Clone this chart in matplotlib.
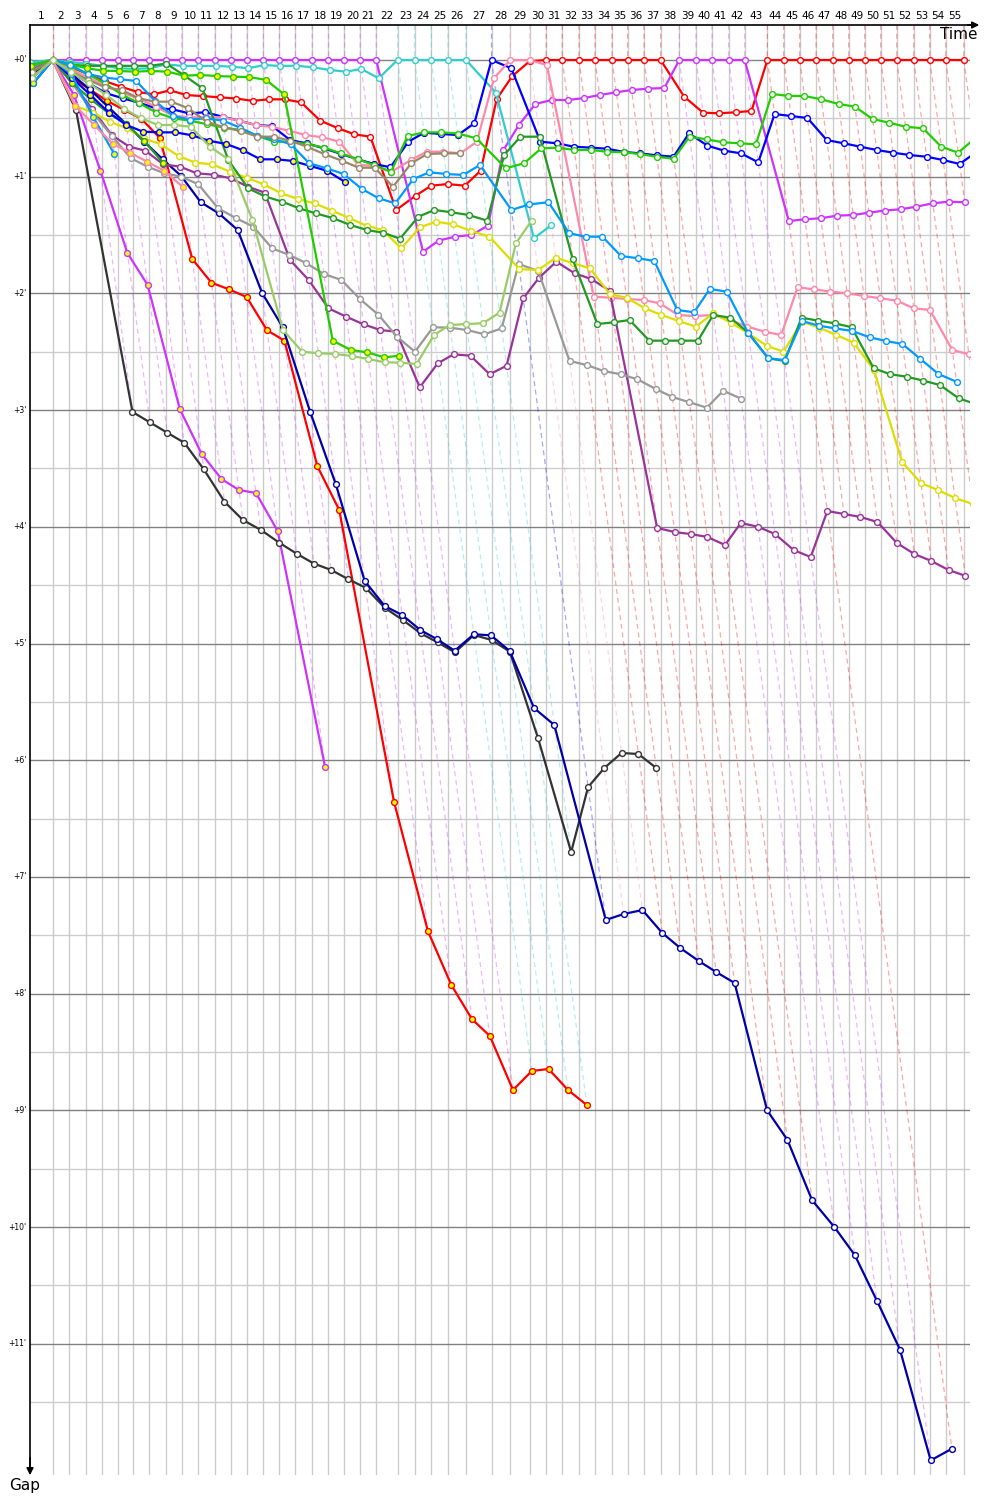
import numpy as np
import matplotlib.pyplot as plt

# leader lap times (s), laps 1..55
lap_times = [88, 64.3, 63.5, 62, 62, 60.4, 62, 63.5, 62, 64.3, 64.7, 62, 62, 63, 62, 62, 64.7, 63, 62, 60.8,
             62, 82.5, 65.8, 64.7, 64.7, 69.7, 99, 72.4, 74.7, 64.7, 62, 64.7, 62, 65.8, 60.4, 63.5, 64.3, 72.4,
             64.7, 62, 64.3, 62, 88, 63, 62, 63.5, 64.3, 62, 62, 62, 62, 65.8, 62, 62, 69.7]
lap_labels = [str(i) for i in range(1, 56)]
gap_ticks = [f"+{i}'" for i in range(12)]

# gaps to leader in minutes, from lap 0
red_w = [.05, 0, .06, .12, .18, .23, .274, .294, .26, .30, .31, .32, .33, .35, .337, .337, .363, .52, .583, .637,
         .657, 1.285, 1.163, 1.077, 1.063, 1.077, .949, .334, .137, .01, 0, 0, 0, 0, 0, 0, 0, 0, .314, .451, .457,
         .448, .437, 0, 0, 0, 0, 0, 0, 0, 0, 0, 0, 0, 0, 0]
red_y = [.1, 0, .152, .251, .351, .428, .503, .666, 1.705, 1.908, 1.965, 2.031, 2.316, 2.405, 3.482, 3.856,
         6.358, 7.464, 7.926, 8.218, 8.363, 8.826, 8.663, 8.646, 8.826, 8.955]
violet_w = [.03] + [0] * 21 + [1.643, 1.548, 1.514, 1.5, 1.42, .771, .557, .377, .343, .343, .326, .30, .277,
                               .257, .246, .24, 0, 0, 0, 0, 0, 1.38, 1.365, 1.356, 1.334, 1.328, 1.308, 1.29,
                               1.279, 1.257, 1.228, 1.214, 1.219]
violet_y = [.08, 0, .3, .95, 1.654, 1.928, 2.99, 3.376, 3.59, 3.685, 3.71, 4.036, 6.058]
black = [.12, 0, .43, 3.016, 3.105, 3.194, 3.279, 3.507, 3.785, 3.942, 4.027, 4.136, 4.231, 4.316, 4.37, 4.45,
         4.522, 4.696, 4.799, 4.913, 4.99, 5.076, 4.927, 4.97, 5.07, 5.81, 6.787, 6.23, 6.067, 5.938, 5.947, 6.067]
navy = [.1, 0, .12, .25, .4, .55, .7, .85, .994, 1.219, 1.314, 1.457, 1.997, 2.288, 3.016, 3.636, 4.464, 4.679,
        4.756, 4.884, 4.964, 5.062, 4.921, 4.93, 5.064, 5.553, 5.698, 7.369, 7.318, 7.284, 7.48, 7.609, 7.72,
        7.815, 7.909, 9.0, 9.254, 9.77, 10.0, 10.24, 10.63, 11.05, 12.0, 11.9]
dpurple = [.1, 0, .2, .42, .643, .743, .777, .894, .914, .971, .983, 1.014, 1.086, 1.137, 1.714, 1.885, 2.128,
           2.2, 2.265, 2.314, 2.328, 2.805, 2.599, 2.522, 2.534, 2.693, 2.62, 2.042, 1.865, 1.728, 1.828, 1.877,
           1.977, 4.01, 4.045, 4.062, 4.087, 4.156, 3.967, 4.0, 4.062, 4.2, 4.259, 3.865, 3.89, 3.916, 3.959,
           4.139, 4.233, 4.293, 4.37, 4.42]
gray = [.1, 0, .2, .45, .65, .842, .914, .971, 1.0, 1.065, 1.271, 1.356, 1.428, 1.614, 1.671, 1.742, 1.834,
        1.885, 2.051, 2.182, 2.371, 2.5, 2.29, 2.294, 2.314, 2.35, 2.3, 1.748, 1.808, 2.579, 2.614, 2.665, 2.693,
        2.736, 2.819, 2.888, 2.933, 2.979, 2.834, 2.902]
yellow = [.1, 0, .394, .45, .529, .585, .671, .722, .823, .88, .894, .957, 1.009, 1.065, 1.142, 1.191, 1.228,
          1.291, 1.356, 1.42, 1.457, 1.615, 1.434, 1.386, 1.408, 1.463, 1.514, 1.791, 1.8, 1.694, 1.742, 1.785,
          2.008, 2.037, 2.128, 2.185, 2.237, 2.285, 2.171, 2.251, 2.342, 2.448, 2.5, 2.242, 2.294, 2.356, 2.422,
          2.656, 3.445, 3.625, 3.685, 3.753, 3.805]
dgreen_w = [.05, 0, .04, .05, .05, .05, .05, .05, .03, .13, .24, .86, 1.1, 1.17, 1.214, 1.271, 1.314, 1.356,
            1.414, 1.457, 1.48, 1.531, 1.343, 1.285, 1.305, 1.328, 1.377, .814, .657, .657, 1.708, 2.262, 2.248,
            2.228, 2.405, 2.405, 2.405, 2.405, 2.185, 2.208, 2.337, 2.556, 2.579, 2.208, 2.234, 2.256, 2.29,
            2.642, 2.693, 2.714, 2.748, 2.785, 2.899, 2.948]
dgreen_y = [.1, 0, .2, .337, .457, .548, .694, .88]
blue_w = [.15, 0, .1, .2, .285, .328, .366, .414, .422, .457, .448, .486, .52, .557, .566, .686, .714, .757,
          .805, .851, .891, .919, .70, .623, .634, .643, .542, 0, .071, .70, .714, .743, .751, .76, .788, .80,
          .817, .829, .628, .734, .777, .80, .877, .463, .48, .497, .686, .714, .743, .771, .794, .814, .829,
          .857, .891, .791]
blue_y = [.2, 0, .15, .3, .45, .557, .614, .62, .62, .645, .692, .72, .774, .851, .851, .865, .906, .949, 1.043]
green_w = [.05, 0, .05, .12, .2, .3, .37, .45, .5, .52, .55, .58, .6, .65, .7, .7, .72, .75, .8, .85, .9, .957,
           .651, .62, .62, .63, .671, .928, .885, .757, .751, .771, .771, .786, .791, .806, .829, .846, .657,
           .68, .705, .714, .722, .291, .308, .308, .337, .377, .40, .506, .537, .572, .585, .743, .794, .677]
green_y = [.05, 0, .037, .071, .092, .094, .1, .094, .1, .134, .129, .137, .143, .146, .171, .294, 2.405, 2.485,
           2.505, 2.548, 2.534]
cyan = [.02, 0, .02, .03, .05, .07, .077, .07, .037, .051, .051, .051, .057, .071, .043, .051, .049, .063, .086,
        .10, .077, .157, 0, 0, 0, 0, 0, .28, 1.528, 1.414]
lblue_w = [.15, 0, .04, .12, .15, .165, .18, .35, .48, .51, .50, .52, .58, .65, .68, .72, .885, .928, .977,
           1.103, 1.185, 1.228, 1.02, .962, .977, .985, .90, 1.285, 1.237, 1.219, 1.485, 1.514, 1.514, 1.68,
           1.699, 1.722, 2.142, 2.162, 1.962, 1.985, 2.342, 2.556, 2.571, 2.237, 2.277, 2.30, 2.322, 2.376,
           2.408, 2.434, 2.562, 2.691, 2.757]
lblue_y = [.2, 0, .12, .491, .805]
pink_w = [.1, 0, .08, .15, .22, .28, .33, .40, .477, .491, .491, .49, .52, .557, .574, .606, .643, .662, .70,
          .90, .906, .96, .857, .786, .786, .80, .70, .157, 0, 0, .043, 2.028, 2.037, 2.048, 2.057, 2.085, 2.185,
          2.194, 2.185, 2.23, 2.285, 2.328, 2.357, 1.948, 1.965, 1.985, 1.999, 2.022, 2.042, 2.062, 2.128, 2.142,
          2.485, 2.522]
pink_y = [.15, 0, .394, .56, .72, .794, .871, .949, 1.086]
olive = [.1, 0, .1, .171, .234, .257, .328, .357, .357, .414, .529, .577, .608, .657, .657, .692, .743, .808,
         .863, .923, .923, 1.086, .885, .806, .80, .80]
ygreen = [.15, 0, .1, .2, .3, .42, .5, .557, .557, .572, .743, .851, 1.371, 2.314, 2.5, 2.513, 2.519, 2.536,
          2.562, 2.59, 2.594, 2.605, 2.356, 2.271, 2.262, 2.256, 2.165, 1.571, 1.377]

series = [
    (red_w, '#FF0000', 'white'), (violet_w, '#CC33FF', 'white'), (cyan, '#33CCCC', 'white'),
    (blue_w, '#0000FF', 'white'), (pink_w, '#FF88AA', 'white'),
    (red_y, '#FF0000', 'yellow'), (violet_y, '#CC33FF', 'yellow'), (black, '#333333', 'white'),
    (navy, '#0000AA', 'white'), (dpurple, '#993399', 'white'), (gray, '#999999', 'white'),
    (yellow, '#DDDD00', 'white'), (dgreen_w, '#229922', 'white'), (dgreen_y, '#229922', 'yellow'),
    (blue_y, '#0000FF', 'yellow'), (green_w, '#22CC00', 'white'), (green_y, '#22CC00', 'yellow'),
    (lblue_w, '#0099FF', 'white'), (lblue_y, '#0099FF', 'yellow'), (pink_y, '#FF88AA', 'yellow'),
    (olive, '#998866', 'white'), (ygreen, '#99CC66', 'white'),
]

T = np.concatenate([[0], np.cumsum(lap_times)])

fig = plt.figure(figsize=(10, 15), dpi=100)
ax = fig.add_axes([0.03, 25 / 1500, 0.94, 1450 / 1500])
ymin, ymax = -35 / 116.7, 1415 / 116.7
ax.set_xlim(0, 940 / (15.5 / 60))
ax.set_ylim(ymax, ymin)

# grid
for k in range(1, len(T)):
    ax.axvline(T[k], color='#CCCCCC', lw=1, zorder=0)
for m in range(12):
    ax.axhline(m + 0.5, color='#CCCCCC', lw=1, zorder=0)
    ax.axhline(m, color='#808080', lw=1, zorder=0.5)

# lap lines (dashed), coloured after the leader of that lap
for k in range(1, len(T)):
    running = [(s[k], c) for s, c, f in series if len(s) > k]
    gmax = max(g for g, c in running)
    lead_col = min(running, key=lambda p: p[0])[1]
    ax.plot([T[k], T[k], T[k] + 60 * gmax], [ymin, 0, gmax], color=lead_col, alpha=0.35,
            lw=0.9, dashes=(4, 3), zorder=1)

for gaps, col, fill in series:
    g = np.array(gaps)
    x = T[:len(g)] + 60 * g
    ax.plot(x, g, color=col, lw=1.6, marker='o', ms=4.2, mfc=fill, mec=col, mew=1, zorder=3)

ax.set_xticks([])
ax.set_yticks([])
for sp in ax.spines.values():
    sp.set_visible(False)

# lap numbers on top
for k in range(1, len(T)):
    ax.text((T[k - 1] + T[k]) / 2, 1.003, lap_labels[k - 1], transform=ax.get_xaxis_transform(),
            ha='center', va='bottom', fontsize=7.5, family='DejaVu Sans')
for m in range(12):
    ax.text(-0.004, m, gap_ticks[m], transform=ax.get_yaxis_transform(), ha='right', va='center',
            fontsize=5.5)

# axes with arrows
y_top = 1 - 25 / 1500
fig.add_artist(plt.Line2D([0.03, 0.972], [y_top, y_top], color='black', lw=1.2, transform=fig.transFigure))
ax.annotate('', xy=(0.982, y_top), xytext=(0.965, y_top), xycoords='figure fraction',
            arrowprops=dict(arrowstyle='-|>', color='black', lw=1.2, mutation_scale=10))
fig.add_artist(plt.Line2D([0.03, 0.03], [y_top, 0.02], color='black', lw=1.2, transform=fig.transFigure))
ax.annotate('', xy=(0.03, 1 - 1478 / 1500), xytext=(0.03, 0.03), xycoords='figure fraction',
            arrowprops=dict(arrowstyle='-|>', color='black', lw=1.2, mutation_scale=10))
fig.text(0.978, 1 - 27 / 1500, 'Time', ha='right', va='top', fontsize=11)
fig.text(0.025, 1 - 1478 / 1500, 'Gap', ha='center', va='top', fontsize=11)

fig.savefig('out.png', dpi=100)
